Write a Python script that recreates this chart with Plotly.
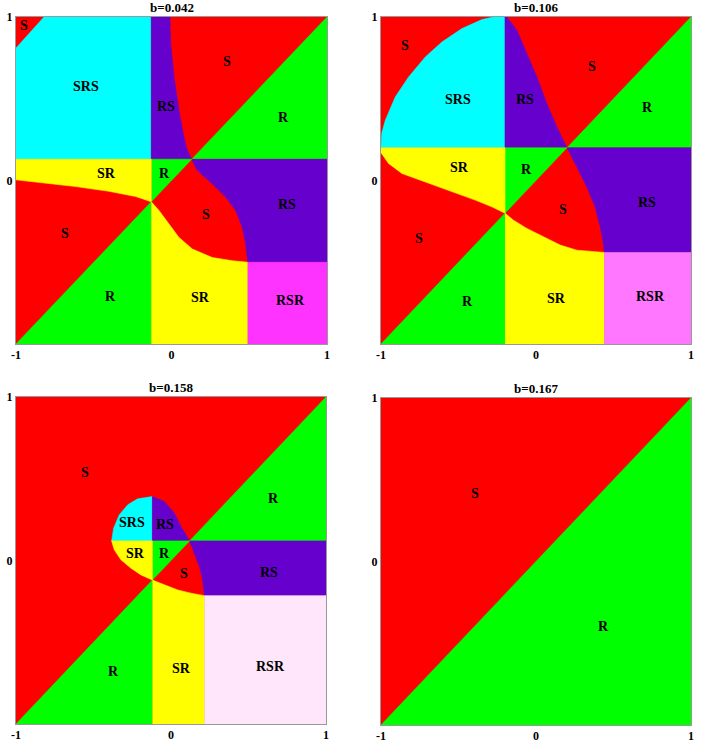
import plotly.graph_objects as go

# region colours
RED = "#ff0000"
GREEN = "#00ff00"
YELLOW = "#ffff00"
CYAN = "#00ffff"
PURPLE = "#6600cc"

titles = ["b=0.042", "b=0.106", "b=0.158", "b=0.167"]
rsr_colors = ["#ff33ff", "#ff77ff", "#ffe6fa"]

# ---- b=0.042 ----
c1 = 0.13
rsr1_x, rsr1_y = 0.49, -0.5
srs1_x = [-1, -1, -0.82]
srs1_y = [0.13, 0.81, 1]
top1_x = [-0.01, -0.005, 0.016, 0.048, 0.080, 0.102, 0.13]
top1_y = [1, 0.839, 0.634, 0.429, 0.266, 0.184, 0.13]
right1_x = [0.13, 0.166, 0.262, 0.349, 0.413, 0.455, 0.477, 0.49]
right1_y = [0.13, 0.061, -0.020, -0.102, -0.184, -0.287, -0.389, -0.5]
low1_x = [-0.13, -0.08, -0.016, 0.048, 0.134, 0.262, 0.391, 0.49]
low1_y = [-0.13, -0.184, -0.266, -0.348, -0.419, -0.471, -0.491, -0.5]
left1_x = [-1, -0.831, -0.616, -0.402, -0.23, -0.13]
left1_y = [0.004, -0.014, -0.037, -0.066, -0.098, -0.13]
lab1_text = ["S", "SRS", "RS", "S", "R", "SR", "R", "S", "RS", "S", "R", "SR", "RSR"]
lab1_x = [-0.949, -0.552, -0.037, 0.355, 0.719, -0.417, -0.048, 0.220, 0.745, -0.685, -0.395, 0.188, 0.768]
lab1_y = [0.945, 0.577, 0.450, 0.726, 0.388, 0.041, 0.045, -0.210, -0.149, -0.327, -0.712, -0.716, -0.732]

# ---- b=0.106 ----
c2 = 0.2
rsr2_x, rsr2_y = 0.44, -0.44
srs2_x = [-1, -0.995, -0.972, -0.908, -0.822, -0.714, -0.607, -0.478, -0.349, -0.274]
srs2_y = [0.2, 0.29, 0.369, 0.511, 0.633, 0.756, 0.847, 0.929, 0.984, 1]
top2_x = [-0.188, -0.123, -0.059, 0.006, 0.070, 0.134, 0.2]
top2_y = [1, 0.919, 0.776, 0.633, 0.471, 0.328, 0.2]
right2_x = [0.2, 0.263, 0.328, 0.381, 0.414, 0.435, 0.44]
right2_y = [0.2, 0.083, -0.039, -0.161, -0.283, -0.385, -0.44]
low2_x = [-0.2, -0.145, -0.059, 0.048, 0.156, 0.263, 0.37, 0.44]
low2_y = [-0.2, -0.243, -0.293, -0.344, -0.395, -0.426, -0.436, -0.44]
left2_x = [-1, -0.951, -0.865, -0.714, -0.564, -0.392, -0.285, -0.2]
left2_y = [0.17, 0.104, 0.043, -0.008, -0.059, -0.12, -0.161, -0.2]
lab2_text = ["S", "SRS", "RS", "S", "R", "SR", "R", "S", "RS", "S", "R", "SR", "RSR"]
lab2_x = [-0.843, -0.504, -0.070, 0.360, 0.718, -0.495, -0.059, 0.173, 0.718, -0.753, -0.442, 0.134, 0.740]
lab2_y = [0.827, 0.497, 0.497, 0.695, 0.446, 0.080, 0.067, -0.177, -0.134, -0.354, -0.741, -0.721, -0.711]

# ---- b=0.158 ----
c3 = 0.12
rsr3_x, rsr3_y = 0.215, -0.215
srs3_x = [-0.383, -0.370, -0.334, -0.279, -0.215, -0.12]
srs3_y = [0.12, 0.198, 0.279, 0.341, 0.377, 0.391]
top3_x = [-0.12, -0.043, 0.021, 0.065, 0.12]
top3_y = [0.391, 0.361, 0.290, 0.208, 0.12]
right3_x = [0.12, 0.150, 0.183, 0.204, 0.215]
right3_y = [0.12, 0.045, -0.037, -0.118, -0.215]
low3_x = [-0.12, -0.043, 0.043, 0.129, 0.215]
low3_y = [-0.12, -0.149, -0.180, -0.200, -0.215]
left3_x = [-0.383, -0.366, -0.323, -0.258, -0.194, -0.12]
left3_y = [0.12, 0.065, 0.004, -0.047, -0.088, -0.12]
lab3_text = ["S", "R", "SRS", "RS", "SR", "R", "S", "RS", "R", "SR", "RSR"]
lab3_x = [-0.553, 0.663, -0.25, -0.039, -0.226, -0.043, 0.082, 0.634, -0.370, 0.065, 0.641]
lab3_y = [0.538, 0.382, 0.232, 0.222, 0.045, 0.045, -0.077, -0.074, -0.676, -0.659, -0.649]

# ---- b=0.167 ----
lab4_text = ["S", "R"]
lab4_x = [-0.392, 0.436]
lab4_y = [0.417, -0.399]


def regions(c, rx, ry, sx, sy, tx, ty, rgx, rgy, lx, ly, ex, ey, rsr_col):
    # list of (xs, ys, colour) polygons, drawn over a red square
    out = []
    out.append(([-c] + sx + [-c], [c] + sy + [sy[-1]], CYAN))
    out.append(([-c, -c] + tx, [c, ty[0]] + ty, PURPLE))
    out.append(([c, 1, 1], [c, 1, c], GREEN))
    out.append(([c, 1, 1] + rgx[::-1], [c, c, ry] + rgy[::-1], PURPLE))
    out.append(([-c, c, -c], [-c, c, c], GREEN))
    out.append(([ex[0], -c] + ex[::-1], [c, c] + ey[::-1], YELLOW))
    out.append(([-1, -c, -c], [-1, -c, -1], GREEN))
    out.append((lx + [rx, -c], ly + [-1, -1], YELLOW))
    out.append(([rx, 1, 1, rx], [ry, ry, -1, -1], rsr_col))
    return out


panels = [
    regions(c1, rsr1_x, rsr1_y, srs1_x, srs1_y, top1_x, top1_y, right1_x, right1_y,
            low1_x, low1_y, left1_x, left1_y, rsr_colors[0]),
    regions(c2, rsr2_x, rsr2_y, srs2_x, srs2_y, top2_x, top2_y, right2_x, right2_y,
            low2_x, low2_y, left2_x, left2_y, rsr_colors[1]),
    regions(c3, rsr3_x, rsr3_y, srs3_x, srs3_y, top3_x, top3_y, right3_x, right3_y,
            low3_x, low3_y, left3_x, left3_y, rsr_colors[2]),
    [([-1, 1, 1], [-1, 1, -1], GREEN)],
]
labels = [(lab1_text, lab1_x, lab1_y), (lab2_text, lab2_x, lab2_y),
          (lab3_text, lab3_x, lab3_y), (lab4_text, lab4_x, lab4_y)]

W, H = 706, 745
# pixel boxes of the four panels (left, right, top, bottom)
boxes = [(16, 327, 17, 344), (381, 691, 17, 344), (16, 326, 397, 724), (381, 691, 398, 725)]

fig = go.Figure()
serif = "Liberation Serif"

for i, polys in enumerate(panels):
    n = "" if i == 0 else str(i + 1)
    xa, ya = "x" + n, "y" + n
    # red base square
    fig.add_trace(go.Scatter(x=[-1, 1, 1, -1], y=[-1, -1, 1, 1], fill="toself",
                             fillcolor=RED, mode="lines", line=dict(width=0),
                             xaxis=xa, yaxis=ya, showlegend=False, hoverinfo="skip"))
    for xs, ys, col in polys:
        fig.add_trace(go.Scatter(x=xs, y=ys, fill="toself", fillcolor=col, mode="lines",
                                 line=dict(width=0.6, color=col), xaxis=xa, yaxis=ya,
                                 showlegend=False, hoverinfo="skip"))
    l, r, t, b = boxes[i]
    ax = dict(range=[-1, 1], showgrid=False, zeroline=False, showline=True, mirror=True,
              linecolor="#999999", linewidth=1, ticks="", automargin=False,
              tickfont=dict(family=serif, size=12, color="black", weight="bold"))
    fig.layout["xaxis" + n] = dict(ax, domain=[l / W, r / W], anchor=ya,
                                   tickvals=[-1, 0, 1], ticktext=["-1", "0", "1"])
    fig.layout["yaxis" + n] = dict(ax, domain=[1 - b / H, 1 - t / H], anchor=xa,
                                   tickvals=[0, 1], ticktext=["0", "1"])
    txt, lx, ly = labels[i]
    for s, x, y in zip(txt, lx, ly):
        fig.add_annotation(x=x, y=y, xref=xa, yref=ya, text=s, showarrow=False,
                           font=dict(family=serif, size=14, color="black", weight="bold"))
    fig.add_annotation(x=0.5, y=1, xref=xa + " domain", yref=ya + " domain", text=titles[i],
                       showarrow=False, yanchor="bottom", yshift=0,
                       font=dict(family=serif, size=13, color="black", weight="bold"))

fig.update_layout(width=W, height=H, margin=dict(l=0, r=0, t=0, b=0),
                  paper_bgcolor="white", plot_bgcolor="white")
# drop the default page margin so the figure fills the window
fig.write_html("out.html", config={"displayModeBar": False},
               post_script="document.body.style.margin='0';")
